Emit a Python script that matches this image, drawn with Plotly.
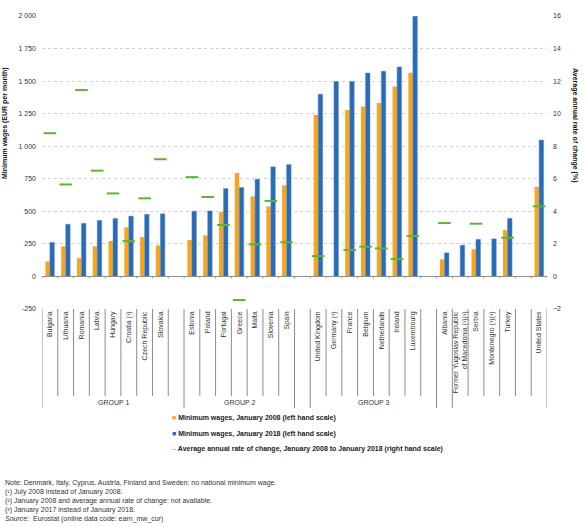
import plotly.graph_objects as go

# ---------------- data ----------------
categories = ["Bulgaria", "Lithuania", "Romania", "Latvia", "Hungary", "Croatia (¹)",
              "Czech Republic", "Slovakia", "",
              "Estonia", "Poland", "Portugal", "Greece", "Malta", "Slovenia", "Spain", "",
              "United Kingdom", "Germany (²)", "France", "Belgium", "Netherlands", "Ireland",
              "Luxembourg", "",
              "Albania", "Former Yugoslav Republic<br>of Macedonia (¹)(³)", "Serbia",
              "Montenegro (¹)(³)", "Turkey", "", "United States"]

wages_2008 = [115, 231, 141, 231, 272, 377, 302, 238, None,
              280, 315, 495, 795, 615, 538, 700, None,
              1240, None, 1278, 1305, 1332, 1458, 1565, None,
              131, None, 208, None, 356, None, 688]

wages_2018 = [261, 401, 408, 430, 445, 463, 477, 481, None,
              501, 503, 675, 683, 747, 842, 859, None,
              1400, 1497, 1497, 1562, 1576, 1609, 1998, None,
              181, 240, 285, 289, 446, None, 1047]

rate_change = [8.8, 5.65, 11.45, 6.5, 5.1, 2.17, 4.8, 7.2, None,
               6.1, 4.88, 3.16, -1.45, 1.97, 4.64, 2.1, None,
               1.25, None, 1.63, 1.83, 1.72, 1.07, 2.48, None,
               3.28, None, 3.24, None, 2.38, None, 4.31]

groups = [(0, 8, "GROUP 1"), (9, 15, "GROUP 2"), (16, 16, ""), (17, 24, "GROUP 3"),
          (25, 25, ""), (26, 31, "")]

left_ticks = [-250, 0, 250, 500, 750, 1000, 1250, 1500, 1750, 2000]
left_ticktext = ["-250", "0", "250", "500", "750", "1 000", "1 250", "1 500", "1 750", "2 000"]
right_ticks = [-2, 0, 2, 4, 6, 8, 10, 12, 14, 16]

series_names = ["Minimum wages, January 2008 (left hand scale)",
                "Minimum wages, January 2018 (left hand scale)",
                "Average annual rate of change, January 2008 to January 2018 (right hand scale)"]

notes = ["Note: Denmark, Italy, Cyprus, Austria, Finland and Sweden: no national minimum wage.",
         "(¹) July 2008 instead of January 2008.",
         "(²) January 2008 and average annual rate of change: not available.",
         "(³) January 2017 instead of January 2018.",
         "<i>Source:</i>  Eurostat (online data code: earn_mw_cur)"]

# ---------------- styling ----------------
W, H = 585, 527
ML, MR, MT, MB = 42, 38, 16, 218
PW = W - ML - MR
PH = H - MT - MB
ORANGE = "#F9A51B"
BLUE = "#2A6BB6"
GREEN = "#5DB530"
FONT = "Arial, Liberation Sans, sans-serif"
TXT = "#333333"

def px_x(px):
    return (px - ML) / PW

def px_y(py):
    return (H - MB - py) / PH

x = list(range(len(categories)))
tick_idx = [i for i, c in enumerate(categories) if c]
tick_txt = [categories[i] for i in tick_idx]

fig = go.Figure()
fig.add_trace(go.Bar(x=x, y=wages_2008, name=series_names[0], marker_color=ORANGE,
                     marker_line_width=0, yaxis="y"))
fig.add_trace(go.Bar(x=x, y=wages_2018, name=series_names[1], marker_color=BLUE,
                     marker_line=dict(color="#5B8FD0", width=0.5), yaxis="y"))
fig.add_trace(go.Scatter(x=x, y=rate_change, name=series_names[2], mode="markers",
                         marker=dict(symbol="line-ew", size=9,
                                     line=dict(color=GREEN, width=2)),
                         yaxis="y2"))

shapes = []
n = len(categories)
long_bounds = set()
for s, e, _ in groups:
    long_bounds.add(s)
    long_bounds.add(e + 1)
for b in range(n + 1):
    y1 = px_y(408) if b in long_bounds else px_y(396)
    shapes.append(dict(type="line", xref="x", yref="paper", x0=b - 0.5, x1=b - 0.5,
                       y0=0, y1=y1, line=dict(color="#8c8c8c", width=1)))
    shapes.append(dict(type="line", xref="x", yref="y", x0=b - 0.5, x1=b - 0.5,
                       y0=0, y1=-14, line=dict(color="#8c8c8c", width=1)))
shapes.append(dict(type="line", xref="paper", yref="y", x0=0, x1=1, y0=0, y1=0,
                   line=dict(color="#8c8c8c", width=1), layer="above"))

annotations = []
for s, e, lab in groups:
    if lab:
        annotations.append(dict(text=lab, x=(s + e) / 2, xref="x", y=px_y(403), yref="paper",
                                showarrow=False, font=dict(size=7, color=TXT, family=FONT),
                                xanchor="center", yanchor="middle"))
annotations.append(dict(text="<b>Minimum wages (EUR per month)</b>", x=px_x(5), y=px_y(123),
                        xref="paper", yref="paper", textangle=-90, showarrow=False,
                        font=dict(size=7, color="#111", family=FONT),
                        xanchor="center", yanchor="middle"))
annotations.append(dict(text="<b>Average annual rate of change (%)</b>", x=px_x(575), y=px_y(125),
                        xref="paper", yref="paper", textangle=90, showarrow=False,
                        font=dict(size=7, color="#111", family=FONT),
                        xanchor="center", yanchor="middle"))
leg_sym = ["<span style='color:%s'>■</span>" % ORANGE,
           "<span style='color:%s'>■</span>" % BLUE,
           "<span style='color:%s'>–</span>" % GREEN]
leg_y = [418, 434, 449]
for sym, name, yy in zip(leg_sym, series_names, leg_y):
    annotations.append(dict(text="%s <b>%s</b>" % (sym, name), x=px_x(170), y=px_y(yy),
                            xref="paper", yref="paper", showarrow=False,
                            font=dict(size=7, color="#222", family=FONT),
                            xanchor="left", yanchor="middle"))
for i, t in enumerate(notes):
    annotations.append(dict(text=t, x=px_x(3), y=px_y(483 + 9 * i), xref="paper", yref="paper",
                            showarrow=False, font=dict(size=7, color=TXT, family=FONT),
                            xanchor="left", yanchor="middle"))

fig.update_layout(
    width=W, height=H,
    margin=dict(l=ML, r=MR, t=MT, b=MB, pad=0),
    paper_bgcolor="white", plot_bgcolor="white",
    barmode="group", bargap=0.43, bargroupgap=0,
    showlegend=False,
    font=dict(family=FONT, size=7, color=TXT),
    xaxis=dict(range=[-0.5, n - 0.5], tickmode="array", tickvals=tick_idx, ticktext=tick_txt,
               tickangle=-90, showgrid=False, zeroline=False, showline=False, ticks="",
               tickfont=dict(size=7, color=TXT, family=FONT), fixedrange=True),
    yaxis=dict(range=[-250, 2000], tickmode="array", tickvals=left_ticks, ticktext=left_ticktext,
               showgrid=True, gridcolor="#d0d0d0", griddash="dot", gridwidth=1,
               zeroline=False, showline=False, ticks="", ticklabelstandoff=5,
               tickfont=dict(size=7, color=TXT, family=FONT)),
    yaxis2=dict(range=[-2, 16], tickmode="array", tickvals=right_ticks, overlaying="y",
                side="right", showgrid=False, zeroline=False, showline=False, ticks="",
                ticklabelstandoff=5, tickfont=dict(size=7, color=TXT, family=FONT)),
    shapes=shapes, annotations=annotations,
)

fig.write_html("out.html", config={"displayModeBar": False},
               post_script="document.body.style.margin='0';")
